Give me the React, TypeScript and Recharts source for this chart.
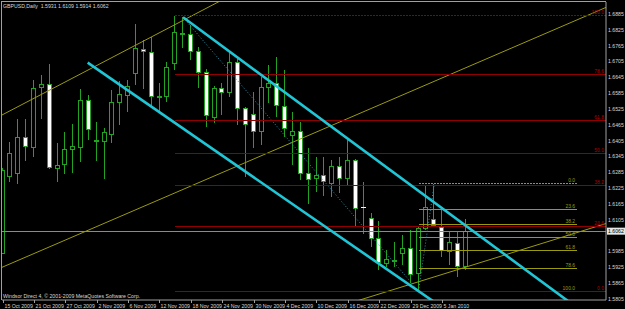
import { ComposedChart, Bar, XAxis, YAxis, ReferenceLine } from "recharts";

const dates = [
  "15 Oct 2009", "16 Oct 2009", "19 Oct 2009", "20 Oct 2009", "21 Oct 2009", "22 Oct 2009",
  "23 Oct 2009", "26 Oct 2009", "27 Oct 2009", "28 Oct 2009", "29 Oct 2009", "30 Oct 2009",
  "2 Nov 2009", "3 Nov 2009", "4 Nov 2009", "5 Nov 2009", "6 Nov 2009", "9 Nov 2009",
  "10 Nov 2009", "11 Nov 2009", "12 Nov 2009", "13 Nov 2009", "16 Nov 2009", "17 Nov 2009",
  "18 Nov 2009", "19 Nov 2009", "20 Nov 2009", "23 Nov 2009", "24 Nov 2009", "25 Nov 2009",
  "26 Nov 2009", "27 Nov 2009", "30 Nov 2009", "1 Dec 2009", "2 Dec 2009", "3 Dec 2009",
  "4 Dec 2009", "7 Dec 2009", "8 Dec 2009", "9 Dec 2009", "10 Dec 2009", "11 Dec 2009",
  "14 Dec 2009", "15 Dec 2009", "16 Dec 2009", "17 Dec 2009", "18 Dec 2009", "21 Dec 2009",
  "22 Dec 2009", "23 Dec 2009", "24 Dec 2009", "28 Dec 2009", "29 Dec 2009", "30 Dec 2009",
  "31 Dec 2009", "4 Jan 2010", "5 Jan 2010", "6 Jan 2010", "7 Jan 2010", "8 Jan 2010",
];

const opens = [
  1.5979, 1.6271, 1.6282, 1.6419, 1.6381, 1.6608, 1.662, 1.6301, 1.6317, 1.6373,
  1.6381, 1.6559, 1.6404, 1.6404, 1.643, 1.6552, 1.6578, 1.6661, 1.6752, 1.6741,
  1.6574, 1.6574, 1.6699, 1.6813, 1.6809, 1.6745, 1.6665, 1.6495, 1.6605, 1.6589,
  1.6703, 1.6529, 1.6506, 1.6442, 1.6608, 1.6624, 1.6536, 1.6426, 1.6442, 1.6282,
  1.6264, 1.6275, 1.6245, 1.6309, 1.6264, 1.6332, 1.6154, 1.6112, 1.6036, 1.5941,
  1.5953, 1.5979, 1.5998, 1.5903, 1.6074, 1.6108, 1.6078, 1.5987, 1.6017, 1.5931,
];
const highs = [
  1.6301, 1.64, 1.6487, 1.6487, 1.6635, 1.6654, 1.6696, 1.6396, 1.6438, 1.6468,
  1.6601, 1.6578, 1.6476, 1.6453, 1.6597, 1.6631, 1.6635, 1.6847, 1.6786, 1.6798,
  1.6624, 1.6703, 1.6877, 1.6873, 1.6843, 1.676, 1.6677, 1.6612, 1.6624, 1.6741,
  1.6715, 1.6533, 1.6589, 1.6646, 1.6692, 1.6722, 1.6673, 1.6514, 1.6476, 1.6377,
  1.6343, 1.6343, 1.6332, 1.6343, 1.6408, 1.6335, 1.6248, 1.6131, 1.61, 1.5991,
  1.6021, 1.6047, 1.6066, 1.6076, 1.6236, 1.6241, 1.6142, 1.6059, 1.6059, 1.6109,
];
const lows = [
  1.5975, 1.6248, 1.6241, 1.6328, 1.6343, 1.6487, 1.6298, 1.6248, 1.6279, 1.6282,
  1.6324, 1.6408, 1.6328, 1.626, 1.6396, 1.6464, 1.6514, 1.6616, 1.6601, 1.6533,
  1.6517, 1.6552, 1.6673, 1.6756, 1.6711, 1.6605, 1.6457, 1.6472, 1.6502, 1.6571,
  1.6464, 1.6267, 1.6377, 1.6389, 1.6548, 1.6495, 1.6419, 1.6313, 1.6256, 1.6165,
  1.621, 1.6195, 1.6191, 1.6207, 1.6237, 1.6078, 1.6051, 1.6002, 1.5915, 1.5926,
  1.5926, 1.5934, 1.5866, 1.5835, 1.6066, 1.6078, 1.5964, 1.5934, 1.5888, 1.5914,
];
const closes = [
  1.6294, 1.6358, 1.6419, 1.6385, 1.6605, 1.662, 1.6305, 1.6313, 1.6373, 1.6385,
  1.6559, 1.6449, 1.6406, 1.6438, 1.6552, 1.6582, 1.6612, 1.6756, 1.6745, 1.6574,
  1.6572, 1.6684, 1.6817, 1.6811, 1.6745, 1.6665, 1.6502, 1.6605, 1.6589, 1.6703,
  1.6529, 1.6468, 1.6442, 1.6608, 1.6624, 1.654, 1.6453, 1.6442, 1.6282, 1.626,
  1.6275, 1.6252, 1.6309, 1.6264, 1.6332, 1.615, 1.6152, 1.6036, 1.5945, 1.5957,
  1.5949, 1.5998, 1.59, 1.6074, 1.6154, 1.6085, 1.5991, 1.6021, 1.593, 1.6062,
];

const dateTicks = [0, 4, 8, 12, 16, 20, 24, 28, 32, 36, 40, 44, 48, 52, 56];
const priceTicks = [
  1.6885, 1.6825, 1.6765, 1.6705, 1.6645, 1.6585, 1.6525, 1.6465, 1.6405,
  1.6345, 1.6285, 1.6225, 1.6165, 1.6105, 1.5985, 1.5925, 1.5865, 1.5805,
];
const fibLevels = [0, 23.6, 38.2, 50, 61.8, 78.6, 100];

// fibo anchors: bar index range and swing prices
const redFib = { from: 22, to: 76.88, high: 1.6879, low: 1.5835 };
const yellowFib = { from: 53, to: 73.2, high: 1.6241, low: 1.5835 };

// trend lines as [bar1, price1, bar2, price2]
const cyanLines = [
  [23, 1.6873, 73, 1.5776],
  [10.85, 1.6701, 56, 1.5773],
];
const oliveLines = [
  [-1, 1.5913, 77, 1.6912],
  [-1, 1.6488, 28, 1.6939],
  [44, 1.5787, 77, 1.6092],
];
const dottedLines = [
  [23, 1.6873, 53, 1.5835],
  [53, 1.5835, 55, 1.6241],
];

const rows = dates.map((d, i) => ({
  i,
  date: d,
  open: opens[i],
  high: highs[i],
  low: lows[i],
  close: closes[i],
  range: [lows[i], highs[i]],
}));

const last = rows.length - 1;
const lastPrice = closes[last];
const FONT = "Liberation Sans, Arial, sans-serif";
const TXT = "#d8d8d8";
const GREEN = "#22a322";
const RED = "#900000";
const OLIVE = "#9a9a10";
const CYAN = "#20c6d6";

function Candle(props: any) {
  const { x, y, width, height, payload } = props;
  const top0 = Math.min(y, y + height);
  const h = Math.abs(height);
  const { open, close, high, low } = payload;
  const k = high > low ? h / (high - low) : 0;
  const py = (v: number) => top0 + (high - v) * k;
  const cx = Math.floor(x + width / 2) + 0.5;
  const bTop = Math.round(py(Math.max(open, close)));
  const bBot = Math.round(py(Math.min(open, close)));
  const up = close >= open;
  return (
    <g shapeRendering="crispEdges">
      <line x1={cx} x2={cx} y1={top0} y2={top0 + h} stroke={GREEN} />
      {bBot - bTop < 1 ? (
        <line x1={cx - 2.5} x2={cx + 2.5} y1={bTop + 0.5} y2={bTop + 0.5} stroke={up ? GREEN : "#e8ffe8"} />
      ) : (
        <rect x={cx - 2} y={bTop + 0.5} width={4} height={bBot - bTop} fill={up ? "#000" : "#fff"} stroke={GREEN} />
      )}
    </g>
  );
}

function DateTick(props: any) {
  const { x, payload } = props;
  const px = Math.round(x) + 0.5;
  return (
    <g>
      <line x1={px} x2={px} y1={300} y2={303} stroke="#a0a0a0" />
      <text x={px + 1} y={307.5} fontSize={5.2} fill={TXT} fontFamily={FONT}>
        {dates[payload.value]}
      </text>
    </g>
  );
}

function PriceTick(props: any) {
  const { y, payload } = props;
  return (
    <text x={608} y={y + 1.8} fontSize={5.2} fill={TXT} fontFamily={FONT}>
      {payload.value.toFixed(4)}
    </text>
  );
}

function FibLabel(props: any) {
  const vb = props.viewBox || {};
  return (
    <text x={vb.x + vb.width - 2} y={vb.y - 1.5} fontSize={5} fill={props.color} textAnchor="end" fontFamily={FONT}>
      {props.text}
    </text>
  );
}

function PriceTag(props: any) {
  const vb = props.viewBox || {};
  return (
    <g>
      <rect x={607} y={vb.y - 3.5} width={18} height={7} fill="#e6e6e6" />
      <text x={608} y={vb.y + 1.8} fontSize={5.2} fill="#000" fontFamily={FONT}>
        {lastPrice.toFixed(4)}
      </text>
    </g>
  );
}

export default function App() {
  return (
    <div style={{ position: "fixed", left: 0, top: 0, width: 625, height: 309, background: "#000", overflow: "hidden" }}>
      <ComposedChart width={625} height={309} data={rows} margin={{ top: 2, right: 0, bottom: 0, left: 2 }}>
        <XAxis
          dataKey="i"
          type="number"
          domain={[-0.064, 76.88]}
          allowDataOverflow
          ticks={dateTicks}
          interval={0}
          height={9}
          tick={<DateTick />}
          tickLine={false}
          axisLine={{ stroke: "#a0a0a0" }}
        />
        <YAxis
          orientation="right"
          type="number"
          domain={[1.5801, 1.6931]}
          allowDataOverflow
          ticks={priceTicks}
          interval={0}
          width={19}
          tick={<PriceTick />}
          tickLine={false}
          axisLine={{ stroke: "#a0a0a0" }}
        />
        <Bar dataKey="range" barSize={5} shape={<Candle />} isAnimationActive={false} />

        <ReferenceLine y={lastPrice} stroke="#8a8a8a" shapeRendering="crispEdges" ifOverflow="visible" label={<PriceTag />} />

        {fibLevels.map((lv) => {
          const p = yellowFib.high - (lv / 100) * (yellowFib.high - yellowFib.low);
          return (
            <ReferenceLine
              key={"y" + lv}
              segment={[{ x: yellowFib.from, y: p }, { x: yellowFib.to, y: p }]}
              stroke={OLIVE}
              shapeRendering="crispEdges"
              strokeDasharray={lv === 0 ? "2 1" : undefined}
              ifOverflow="visible"
              label={<FibLabel color={OLIVE} text={lv.toFixed(1)} />}
            />
          );
        })}

        {oliveLines.map((l, k) => (
          <ReferenceLine key={"o" + k} segment={[{ x: l[0], y: l[1] }, { x: l[2], y: l[3] }]} stroke={OLIVE} ifOverflow="hidden" />
        ))}

        {dottedLines.map((l, k) => (
          <ReferenceLine key={"d" + k} segment={[{ x: l[0], y: l[1] }, { x: l[2], y: l[3] }]} stroke="#2a90a8" strokeDasharray="1 2" ifOverflow="hidden" />
        ))}

        {fibLevels.map((lv) => {
          const p = redFib.low + (lv / 100) * (redFib.high - redFib.low);
          return (
            <ReferenceLine
              key={"r" + lv}
              segment={[{ x: redFib.from, y: p }, { x: redFib.to, y: p }]}
              stroke={RED}
              shapeRendering="crispEdges"
              strokeDasharray={lv === 100 ? "2 1" : undefined}
              ifOverflow="visible"
              label={<FibLabel color="#b00000" text={lv.toFixed(1)} />}
            />
          );
        })}

        {cyanLines.map((l, k) => (
          <ReferenceLine key={"c" + k} segment={[{ x: l[0], y: l[1] }, { x: l[2], y: l[3] }]} stroke={CYAN} strokeWidth={2.6} ifOverflow="hidden" />
        ))}
      </ComposedChart>

      <svg width={625} height={309} style={{ position: "absolute", left: 0, top: 0, pointerEvents: "none" }}>
        <line x1={1.5} x2={1.5} y1={1} y2={300} stroke="#a0a0a0" />
        <line x1={1} x2={606} y1={1.5} y2={1.5} stroke="#a0a0a0" />
        <text x={3} y={7.5} fontSize={5.2} fill={TXT} fontFamily={FONT} xmlSpace="preserve">
          {`GBPUSD,Daily  ${opens[last].toFixed(4)} ${highs[last].toFixed(4)} ${lows[last].toFixed(4)} ${closes[last].toFixed(4)}`}
        </text>
        <text x={3} y={298} fontSize={5.2} fill={TXT} fontFamily={FONT}>
          Windsor Direct 4, © 2001-2009 MetaQuotes Software Corp.
        </text>
      </svg>
    </div>
  );
}
